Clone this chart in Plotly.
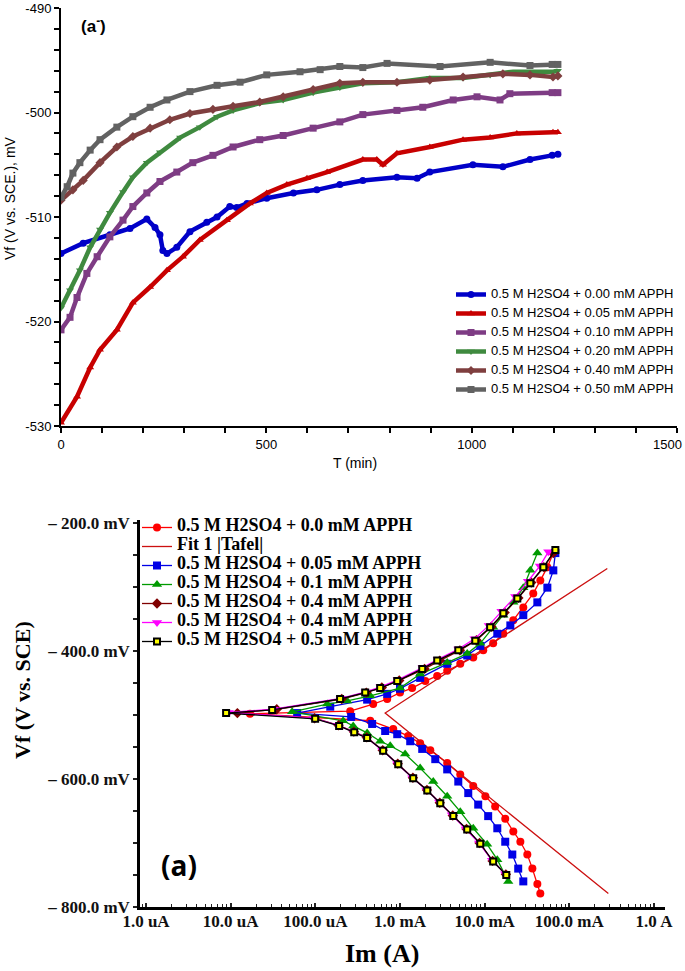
import plotly.graph_objects as go

W, H = 685, 971

# ------------------------------------------------------------------
# Top chart: open-circuit potential vs time
# ------------------------------------------------------------------
ocp_names = [
    "0.5 M H2SO4 + 0.00 mM APPH",
    "0.5 M H2SO4 + 0.05 mM APPH",
    "0.5 M H2SO4 + 0.10 mM APPH",
    "0.5 M H2SO4 + 0.20 mM APPH",
    "0.5 M H2SO4 + 0.40 mM APPH",
    "0.5 M H2SO4 + 0.50 mM APPH",
]

t_000 = [0, 54, 119, 168, 209, 229, 241, 248, 258, 282, 314, 355, 380, 411, 428, 453, 501, 566, 623, 679,
         735, 818, 867, 898, 1003, 1076, 1142, 1196, 1210]
v_000 = [-513.5, -512.5, -511.7, -511.1, -510.2, -511.0, -511.7, -513.2, -513.5, -512.9, -511.4, -510.5, -510.0,
         -509.0, -509.1, -508.7, -508.2, -507.7, -507.4, -506.9, -506.5, -506.2, -506.3, -505.7, -505.0, -505.2,
         -504.5, -504.1, -504.0]

t_005 = [0, 39, 71, 95, 136, 175, 217, 258, 297, 338, 404, 460, 501, 550, 599, 648, 735, 769, 784, 818, 898,
         979, 1045, 1110, 1198, 1210]
v_005 = [-529.7, -527.2, -524.4, -522.7, -520.8, -518.2, -516.7, -515.1, -513.8, -512.2, -510.3, -508.7, -507.7,
         -506.9, -506.3, -505.7, -504.5, -504.5, -505.0, -503.9, -503.3, -502.6, -502.4, -502.0, -501.9, -501.9]

t_010 = [0, 22, 39, 63, 88, 119, 151, 175, 209, 241, 282, 321, 370, 419, 484, 541, 614, 679, 735, 818, 881,
         955, 1013, 1069, 1093, 1196, 1210]
v_010 = [-520.8, -519.6, -517.7, -515.4, -513.8, -511.9, -510.3, -509.0, -507.7, -506.6, -505.7, -504.8, -504.1,
         -503.3, -502.6, -502.2, -501.5, -500.9, -500.2, -499.8, -499.5, -498.8, -498.5, -498.8, -498.2, -498.1,
         -498.1]

t_020 = [0, 22, 46, 71, 95, 119, 151, 175, 209, 241, 290, 338, 380, 419, 484, 541, 614, 679, 735, 818, 898,
         979, 1045, 1101, 1198, 1210]
v_020 = [-518.7, -517.0, -515.1, -512.9, -511.2, -509.6, -507.6, -506.2, -504.8, -503.8, -502.4, -501.4, -500.4,
         -499.8, -499.1, -498.8, -498.1, -497.6, -497.2, -497.1, -496.7, -496.7, -496.4, -496.1, -496.1, -496.0]

t_040 = [0, 29, 54, 95, 136, 175, 217, 265, 314, 370, 419, 484, 541, 614, 679, 735, 818, 898, 979, 1076, 1142,
         1198, 1210]
v_040 = [-508.4, -507.4, -506.5, -504.8, -503.3, -502.3, -501.5, -500.7, -500.1, -499.7, -499.4, -499.0, -498.5,
         -497.8, -497.2, -497.1, -497.1, -496.9, -496.6, -496.3, -496.4, -496.6, -496.5]

t_050 = [0, 15, 29, 46, 71, 95, 136, 175, 217, 258, 314, 380, 436, 501, 582, 631, 679, 735, 794, 923, 1045,
         1142, 1196, 1210]
v_050 = [-508.1, -507.1, -505.8, -504.8, -503.6, -502.6, -501.4, -500.4, -499.5, -498.8, -498.0, -497.4, -497.1,
         -496.4, -496.1, -495.9, -495.6, -495.7, -495.3, -495.6, -495.2, -495.5, -495.4, -495.4]

ocp_t = [t_000, t_005, t_010, t_020, t_040, t_050]
ocp_v = [v_000, v_005, v_010, v_020, v_040, v_050]
ocp_colors = ["#0000C8", "#C80000", "#7E3C84", "#3F8A3F", "#7F3F3F", "#626262"]
ocp_symbols = ["circle", "triangle-up", "square", "triangle-down", "diamond", "square"]

top_xticks = [0, 500, 1000]
top_xtext = ["0", "500", "1000"]
top_xlast = "1500"          # drawn separately so it stays inside the page
top_yticks = [-530, -520, -510, -500, -490]
top_ytext = ["-530", "-520", "-510", "-500", "-490"]

# ------------------------------------------------------------------
# Bottom chart: Tafel polarisation curves (current in A, potential in mV)
# ------------------------------------------------------------------
tafel_names = [
    "0.5 M H2SO4 + 0.0 mM APPH",
    "0.5 M H2SO4 + 0.05 mM APPH",
    "0.5 M H2SO4 + 0.1 mM APPH",
    "0.5 M H2SO4 + 0.4 mM APPH",
    "0.5 M H2SO4 + 0.4 mM APPH",
    "0.5 M H2SO4 + 0.5 mM APPH",
]
fit_name = "Fit 1 |Tafel|"

i_00 = [4.54e-2, 4.19e-2, 3.66e-2, 3.19e-2, 2.64e-2, 2.18e-2, 1.75e-2, 1.33e-2, 1.02e-2, 7.33e-3, 5.15e-3,
        3.61e-3, 2.28e-3, 1.73e-3, 1.25e-3, 8.32e-4, 4.45e-4, 1.69e-5,
        2.58e-4, 4.82e-4, 7.06e-4, 1.00e-3, 1.39e-3, 1.99e-3, 2.75e-3, 3.61e-3, 5.15e-3, 7.33e-3, 9.62e-3,
        1.26e-2, 1.66e-2, 2.18e-2, 2.86e-2, 3.75e-2, 4.54e-2, 5.50e-2, 6.47e-2]
v_00 = [-779, -764, -740, -718, -698, -682, -662, -643, -627, -611, -593, -575, -555, -544, -533, -522, -509,
        -498, -494, -483, -475, -465, -458, -447, -439, -431, -420, -410, -399, -388, -373, -352, -332, -310,
        -290, -269, -247]

i_05 = [2.86e-2, 2.49e-2, 2.12e-2, 1.75e-2, 1.41e-2, 1.10e-2, 8.39e-3, 6.40e-3, 4.88e-3, 3.61e-3, 2.61e-3,
        1.83e-3, 1.32e-3, 9.27e-4, 6.68e-4, 4.69e-4, 2.65e-4, 6.10e-5,
        1.50e-4, 4.09e-4, 7.06e-4, 1.00e-3, 1.73e-3, 3.61e-3, 6.22e-3, 8.87e-3, 1.41e-2, 2.01e-2, 2.86e-2,
        4.19e-2, 5.50e-2, 6.47e-2, 6.84e-2]
v_05 = [-760, -740, -718, -698, -677, -658, -640, -622, -604, -585, -569, -553, -541, -530, -525, -514, -503,
        -497, -487, -476, -467, -459, -442, -420, -407, -392, -373, -360, -344, -324, -301, -274, -247]

i_10 = [1.90e-2, 1.41e-2, 1.07e-2, 7.33e-3, 5.15e-3, 3.61e-3, 2.47e-3, 1.73e-3, 1.15e-3, 7.66e-4, 5.83e-4,
        4.09e-4, 2.80e-4, 2.13e-4, 5.32e-5,
        1.38e-4, 2.38e-4, 4.45e-4, 1.00e-3, 1.73e-3, 3.61e-3, 6.22e-3, 8.87e-3, 1.26e-2, 1.66e-2, 2.18e-2,
        2.86e-2, 3.46e-2, 4.19e-2]
v_10 = [-760, -726, -702, -677, -651, -627, -604, -583, -561, -548, -541, -528, -517, -509, -495,
        -483, -478, -470, -458, -436, -418, -404, -388, -363, -344, -324, -301, -274, -247]

i_40a = [1.78e-2, 1.24e-2, 8.7e-3, 6.1e-3, 4.2e-3, 2.95e-3, 2.08e-3, 1.42e-3, 9.4e-4, 6.25e-4, 4.05e-4,
         2.85e-4, 1.88e-4, 9.8e-5, 1.2e-5,
         3.5e-5, 2.05e-4, 4.0e-4, 6.1e-4, 9.8e-4, 1.95e-3, 2.95e-3, 5.1e-3, 8.0e-3, 1.2e-2, 1.72e-2, 2.5e-2,
         3.55e-2, 5.0e-2, 6.47e-2]
v_40a = [-749, -728, -700, -678, -657, -637, -617, -598, -576, -555, -535, -526, -516, -505, -497,
         -491, -475, -465, -457, -446, -428, -415, -399, -383, -362, -340, -317, -293, -269, -247]

i_40b = [1.75e-2, 1.22e-2, 8.6e-3, 6.0e-3, 4.1e-3, 2.9e-3, 2.05e-3, 1.40e-3, 9.3e-4, 6.2e-4, 4.0e-4, 2.8e-4,
         1.85e-4, 9.6e-5, 9.5e-6,
         3.2e-5, 2.0e-4, 3.95e-4, 5.9e-4, 9.4e-4, 1.85e-3, 2.8e-3, 4.9e-3, 7.6e-3, 1.12e-2, 1.58e-2, 2.3e-2,
         3.25e-2, 4.5e-2, 5.65e-2]
v_40b = [-748, -727, -700, -678, -656, -636, -617, -598, -576, -555, -535, -526, -516, -505, -496,
         -491, -474, -464, -456, -445, -426, -413, -397, -381, -360, -338, -315, -291, -267, -245]

i_50 = [1.80e-2, 1.26e-2, 8.87e-3, 6.22e-3, 4.26e-3, 2.99e-3, 2.10e-3, 1.43e-3, 9.53e-4, 6.32e-4, 4.09e-4,
        2.88e-4, 1.91e-4, 9.95e-5, 8.83e-6,
        3.09e-5, 1.96e-4, 3.88e-4, 5.83e-4, 9.27e-4, 1.83e-3, 2.75e-3, 4.88e-3, 7.74e-3, 1.16e-2, 1.66e-2,
        2.43e-2, 3.46e-2, 4.93e-2, 6.84e-2]
v_50 = [-750, -729, -701, -679, -658, -638, -618, -599, -577, -556, -536, -527, -517, -506, -497,
        -492, -475, -465, -458, -447, -428, -415, -399, -384, -363, -341, -318, -294, -269, -242]

i_fit = [0.289, 6.68e-4, 0.281]
v_fit = [-779, -497, -271]

tafel_i = [i_00, i_05, i_10, i_40a, i_40b, i_50]
tafel_v = [v_00, v_05, v_10, v_40a, v_40b, v_50]
tafel_colors = ["#FF0000", "#0000E6", "#009A00", "#800000", "#FF00FF", "#FFFF00"]
tafel_lines = ["#FF0000", "#0000E6", "#009A00", "#800000", "#FF00FF", "#000000"]
tafel_symbols = ["circle", "square", "triangle-up", "diamond", "triangle-down", "square"]
tafel_sizes = [8, 8, 9, 8, 9, 6]

bottom_xticks = [1e-6, 1e-5, 1e-4, 1e-3, 1e-2, 1e-1, 1]
bottom_xtext = ["1.0 uA", "10.0 uA", "100.0 uA", "1.0 mA", "10.0 mA", "100.0 mA", "1.0 A"]
bottom_yticks = [-800, -600, -400, -200]
bottom_ytext = ["\u2013 800.0 mV", "\u2013 600.0 mV", "\u2013 400.0 mV", "\u2013 200.0 mV"]


def px(x):
    return x / W


def py(y):
    return 1 - y / H


SANS = "Arial, Liberation Sans, sans-serif"
SERIF = "Times New Roman, Liberation Serif, serif"

fig = go.Figure()

for name, t, v, c, s in zip(ocp_names, ocp_t, ocp_v, ocp_colors, ocp_symbols):
    fig.add_trace(go.Scatter(
        x=t, y=v, mode="lines+markers", xaxis="x", yaxis="y",
        name="<span style='font-size:13px'>" + name + "</span>",
        line=dict(color=c, width=4.5),
        marker=dict(symbol=s, size=7, color=c),
        legend="legend",
    ))

for k, (name, i, v) in enumerate(zip(tafel_names, tafel_i, tafel_v)):
    mk = dict(symbol=tafel_symbols[k], size=tafel_sizes[k], color=tafel_colors[k])
    if k == 5:
        mk["line"] = dict(color="#000000", width=2)
    fig.add_trace(go.Scatter(
        x=i, y=v, mode="lines+markers", xaxis="x2", yaxis="y2",
        name="<span style='font-size:18px'><b>" + name + "</b></span>",
        line=dict(color=tafel_lines[k], width=1.3),
        marker=mk,
        legend="legend2",
        legendrank=2 + k if k > 0 else 1,
    ))
    if k == 0:
        fig.add_trace(go.Scatter(
            x=i_fit, y=v_fit, mode="lines", xaxis="x2", yaxis="y2",
            name="<span style='font-size:18px'><b>" + fit_name + "</b></span>",
            line=dict(color="#CC1010", width=1.3),
            legend="legend2", legendrank=2,
        ))

axis_common = dict(showgrid=False, zeroline=False, showline=True, linecolor="#000000", mirror=False,
                   automargin=False)


def note(text, x, y, size, family, angle=0, xanchor="center"):
    return dict(text=text, x=px(x), y=py(y), xref="paper", yref="paper", xanchor=xanchor,
                yanchor="middle", showarrow=False, textangle=angle,
                font=dict(family=family, size=size, color="#000"))


fig.update_layout(
    width=W, height=H,
    margin=dict(l=0, r=0, t=0, b=0, pad=0, autoexpand=False),
    paper_bgcolor="white", plot_bgcolor="white",
    font=dict(family=SANS, color="#000000"),
    xaxis=dict(
        domain=[px(61), px(677)], anchor="y", range=[0, 1500],
        tickmode="array", tickvals=top_xticks, ticktext=top_xtext,
        ticks="outside", ticklen=5, tickwidth=1.5, tickcolor="#000", linewidth=2,
        minor=dict(dtick=100, tick0=0, ticks="outside", ticklen=5, tickwidth=1.5, tickcolor="#000"),
        tickfont=dict(family=SANS, size=13, color="#000"), **axis_common,
    ),
    yaxis=dict(
        domain=[py(426), py(8)], anchor="x", range=[-530, -490],
        tickmode="array", tickvals=top_yticks, ticktext=top_ytext,
        ticks="outside", ticklen=5, tickwidth=1.5, tickcolor="#000", linewidth=2,
        minor=dict(dtick=2, tick0=-530, ticks="outside", ticklen=5, tickwidth=1.5, tickcolor="#000"),
        tickfont=dict(family=SANS, size=13, color="#000"), **axis_common,
    ),
    xaxis2=dict(
        type="log", domain=[px(140), px(665)], anchor="y2", range=[-6.071, 0.13],
        tickmode="array", tickvals=bottom_xticks, ticktext=bottom_xtext,
        ticks="inside", ticklen=4, tickwidth=1.5, tickcolor="#222", linewidth=2.5,
        minor=dict(dtick="D1", ticks="inside", ticklen=3, tickwidth=1, tickcolor="#222"),
        ticklabelstandoff=-3,
        tickfont=dict(family=SERIF, size=17, color="#111", weight="bold"), **axis_common,
    ),
    yaxis2=dict(
        domain=[py(907), py(520)], anchor="x2", range=[-800, -195.3],
        tickmode="array", tickvals=bottom_yticks, ticktext=bottom_ytext,
        ticks="outside", ticklen=4, tickwidth=1.5, tickcolor="#222", linewidth=2.5,
        minor=dict(dtick=50, tick0=-800, ticks="outside", ticklen=4, tickwidth=1.5, tickcolor="#222"),
        tickfont=dict(family=SERIF, size=17, color="#111", weight="bold"), **axis_common,
    ),
    legend=dict(
        x=px(451), y=py(280), xanchor="left", yanchor="top",
        bgcolor="rgba(0,0,0,0)", borderwidth=0, tracegroupgap=0,
        font=dict(family=SANS, size=10, color="#000"), itemwidth=30,
    ),
    legend2=dict(
        x=px(137), y=py(513), xanchor="left", yanchor="top",
        bgcolor="rgba(0,0,0,0)", borderwidth=0, tracegroupgap=0,
        font=dict(family=SERIF, size=10, color="#000"), itemwidth=30, traceorder="normal",
    ),
    annotations=[
        note("<b>(a<sup>-</sup>)</b>", 93, 25, 17, SANS),
        note(top_xlast, 684, 444, 13, SANS, xanchor="right"),
        note("T (min)", 355, 463, 14, SANS),
        note("Vf (V vs. SCE.), mV", 10, 198, 14, SANS, -90),
        note("<b>Im (A)</b>", 382, 953, 26, SERIF),
        note("<b>Vf (V vs. SCE)</b>", 22, 690, 22, SERIF, -90),
        note("<b>(a)</b>", 179, 865, 28, "Open Sans, sans-serif"),
    ],
)

fig.write_html("out.html", config={"displayModeBar": False},
               post_script="document.body.style.margin='0px';")
